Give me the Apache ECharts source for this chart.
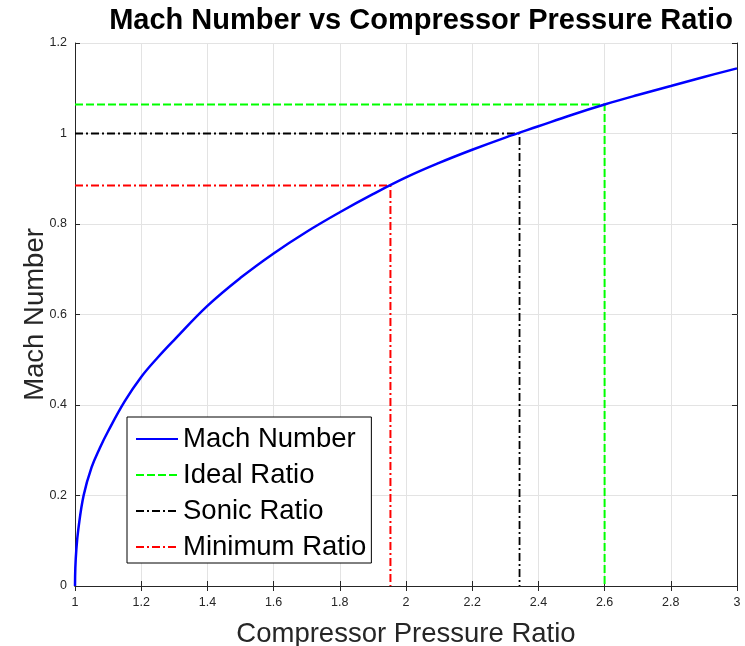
<!DOCTYPE html>
<html>
<head>
<meta charset="utf-8">
<script src="https://cdn.jsdelivr.net/npm/echarts@6/dist/echarts.min.js"></script>
<style>html,body{margin:0;padding:0;background:#fff}#c{width:745px;height:646px}</style>
</head>
<body>
<div id="c"></div>
<script>
// Data
var pressureRatio = [1.000, 1.001, 1.004, 1.010, 1.026, 1.050, 1.075, 1.100, 1.150, 1.200, 1.250, 1.300, 1.400, 1.500, 1.600, 1.700, 1.800, 1.900, 2.000, 2.100, 2.200, 2.300, 2.400, 2.500, 2.600, 2.700, 2.800, 2.900, 3.000];
var machNumber    = [0.000, 0.040, 0.080, 0.125, 0.200, 0.262, 0.305, 0.342, 0.408, 0.462, 0.505, 0.544, 0.619, 0.681, 0.735, 0.783, 0.826, 0.866, 0.903, 0.935, 0.964, 0.991, 1.016, 1.041, 1.064, 1.085, 1.105, 1.125, 1.144];

var idealRatio = [2.60, 1.064];    // [pressure ratio, Mach]
var sonicRatio = [2.343, 1.000];
var minimumRatio = [1.953, 0.885];

var xTicks = [1, 1.2, 1.4, 1.6, 1.8, 2, 2.2, 2.4, 2.6, 2.8, 3];
var yTicks = [0, 0.2, 0.4, 0.6, 0.8, 1, 1.2];

var seriesNames = ['Mach Number', 'Ideal Ratio', 'Sonic Ratio', 'Minimum Ratio'];

function refLine(p) { return [[xTicks[0], p[1]], [p[0], p[1]], [p[0], 0]]; }

var curve = pressureRatio.map(function (x, i) { return [x, machNumber[i]]; });

var axisColor = '#262626';
var font = '"Liberation Sans", Arial, sans-serif';

var chart = echarts.init(document.getElementById('c'), null, {renderer: 'canvas'});
chart.setOption({
  animation: false,
  backgroundColor: '#ffffff',
  title: {
    text: 'Mach Number vs Compressor Pressure Ratio',
    left: 416, top: 1, textAlign: 'center',
    textStyle: {fontFamily: font, fontWeight: 'bold', fontSize: 29, color: '#000'}
  },
  grid: {left: 75, right: 8, top: 43, bottom: 60, containLabel: false, outerBoundsMode: 'none'},
  legend: {
    show: true,
    orient: 'vertical', left: 127, top: 417,
    data: seriesNames,
    backgroundColor: '#ffffff', borderColor: '#000', borderWidth: 1,
    padding: [7, 5, 1, 8], itemGap: 6, itemWidth: 42, itemHeight: 14,
    itemStyle: {opacity: 0},
    textStyle: {fontFamily: font, fontSize: 27.5, lineHeight: 30, color: '#000'}
  },
  xAxis: [{
    type: 'value', min: 1, max: 3, interval: 0.2,
    name: 'Compressor Pressure Ratio', nameLocation: 'middle', nameGap: 34, nameMoveOverlap: false,
    nameTextStyle: {fontFamily: font, fontSize: 27.5, color: axisColor},
    axisLine: {show: true, lineStyle: {color: axisColor, width: 1}},
    axisTick: {show: true, inside: true, length: 5, lineStyle: {color: axisColor}},
    axisLabel: {fontFamily: font, fontSize: 12.5, color: axisColor, margin: 10},
    splitLine: {show: true, lineStyle: {color: '#e3e3e3', width: 1}}
  }, {
    type: 'value', min: 1, max: 3, interval: 0.2, position: 'top',
    axisLine: {show: true, lineStyle: {color: axisColor, width: 1}},
    axisTick: {show: true, inside: true, length: 5, lineStyle: {color: axisColor}},
    axisLabel: {show: false}, splitLine: {show: false}
  }],
  yAxis: [{
    type: 'value', min: 0, max: 1.2, interval: 0.2,
    name: 'Mach Number', nameLocation: 'middle', nameGap: 26, nameMoveOverlap: false,
    nameTextStyle: {fontFamily: font, fontSize: 27.5, color: axisColor},
    axisLine: {show: true, lineStyle: {color: axisColor, width: 1}},
    axisTick: {show: true, inside: true, length: 5, lineStyle: {color: axisColor}},
    axisLabel: {fontFamily: font, fontSize: 12.5, color: axisColor, margin: 8},
    splitLine: {show: true, lineStyle: {color: '#e3e3e3', width: 1}}
  }, {
    type: 'value', min: 0, max: 1.2, interval: 0.2, position: 'right',
    axisLine: {show: true, lineStyle: {color: axisColor, width: 1}},
    axisTick: {show: true, inside: true, length: 5, lineStyle: {color: axisColor}},
    axisLabel: {show: false}, splitLine: {show: false}
  }],
  series: [
    {name: seriesNames[0], type: 'line', xAxisIndex: 0, yAxisIndex: 0, data: curve, showSymbol: false, symbol: 'none',
     smooth: 0.4, color: '#0000ff', lineStyle: {color: '#0000ff', width: 2.5}, z: 5},
    {name: seriesNames[1], type: 'line', xAxisIndex: 0, yAxisIndex: 0, data: refLine(idealRatio), showSymbol: false, symbol: 'none',
     color: '#00ff00', lineStyle: {color: '#00ff00', width: 2, type: [8, 3]}, z: 3},
    {name: seriesNames[2], type: 'line', xAxisIndex: 0, yAxisIndex: 0, data: refLine(sonicRatio), showSymbol: false, symbol: 'none',
     color: '#000000', lineStyle: {color: '#000000', width: 1.8, type: [8, 3, 2, 3]}, z: 3},
    {name: seriesNames[3], type: 'line', xAxisIndex: 0, yAxisIndex: 0, data: refLine(minimumRatio), showSymbol: false, symbol: 'none',
     color: '#ff0000', lineStyle: {color: '#ff0000', width: 2, type: [8, 3, 2, 3]}, z: 3}
  ]
});
</script>
</body>
</html>
